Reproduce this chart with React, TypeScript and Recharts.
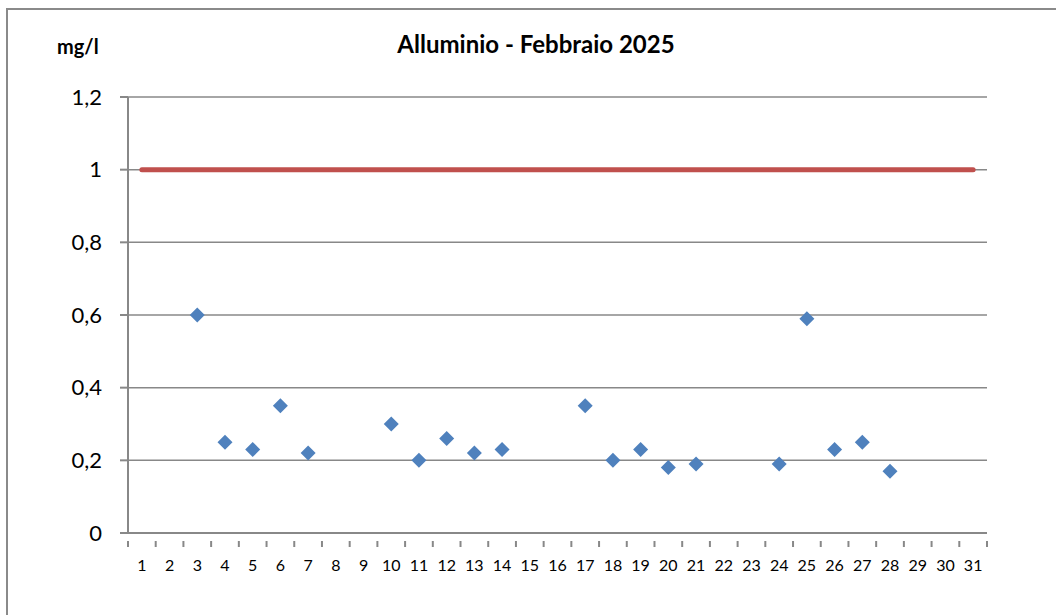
import React from "react";
import { ComposedChart, Line, Scatter, XAxis, YAxis, CartesianGrid } from "recharts";

const days = Array.from({ length: 31 }, (_, i) => i + 1);
const limitValues = days.map(() => 1);
const sampleDays = [3, 4, 5, 6, 7, 10, 11, 12, 13, 14, 17, 18, 19, 20, 21, 24, 25, 26, 27, 28];
const sampleValues = [0.6, 0.25, 0.23, 0.35, 0.22, 0.3, 0.2, 0.26, 0.22, 0.23, 0.35, 0.2, 0.23, 0.18, 0.19, 0.19, 0.59, 0.23, 0.25, 0.17];
const yTicks = [0, 0.2, 0.4, 0.6, 0.8, 1, 1.2];

const W = 1056;
const H = 615;
const M = { top: 97, right: 69, bottom: 52, left: 68 };
const Y_W = 60;
const X_H = 30;
const BAND = (W - M.left - Y_W - M.right) / days.length;

const lineData = days.map((d, i) => ({ day: d, limit: limitValues[i] }));
const scatterData = sampleDays.map((d, i) => ({ day: d, value: sampleValues[i] }));

const FONT = "Lato, 'Open Sans', sans-serif";

const Diamond = (props: any) => {
  const { cx, cy } = props;
  if (cx == null || cy == null) return null;
  const r = 7.5;
  return (
    <polygon
      points={`${cx},${cy - r} ${cx + r},${cy} ${cx},${cy + r} ${cx - r},${cy}`}
      fill="#4F81BD"
    />
  );
};

const XTick = (props: any) => {
  const { x, y, payload, index } = props;
  const axisY = y;
  return (
    <g>
      <line x1={x - BAND / 2} x2={x - BAND / 2} y1={axisY} y2={axisY + 6} stroke="#888" strokeWidth={2} />
      {index === days.length - 1 && (
        <line x1={x + BAND / 2} x2={x + BAND / 2} y1={axisY} y2={axisY + 6} stroke="#888" strokeWidth={2} />
      )}
      <text x={x} y={axisY + 30} textAnchor="middle" fontSize={16} fill="#000" fontFamily={FONT}>
        {payload.value}
      </text>
    </g>
  );
};

export default function App() {
  return (
    <div style={{ position: "absolute", left: 0, top: 0, width: W, height: H, overflow: "hidden", background: "#fff" }}>
      <div
        style={{
          position: "absolute",
          left: 6,
          top: 8,
          width: 1200,
          height: 800,
          border: "2px solid #8a8a8a",
        }}
      />
      <div
        style={{
          position: "absolute",
          left: 57,
          top: 34,
          fontFamily: FONT,
          fontWeight: 700,
          fontSize: 20,
          color: "#000",
        }}
      >
        mg/l
      </div>
      <div
        style={{
          position: "absolute",
          left: 0,
          width: 1072,
          top: 29,
          textAlign: "center",
          fontFamily: FONT,
          fontWeight: 700,
          fontSize: 24,
          color: "#000",
        }}
      >
        Alluminio - Febbraio 2025
      </div>
      <div style={{ position: "absolute", left: 0, top: 0 }}>
        <ComposedChart width={W} height={H} data={lineData} margin={M}>
          <CartesianGrid vertical={false} stroke="#888" strokeWidth={1.5} />
          <XAxis
            dataKey="day"
            type="number"
            domain={[0.5, 31.5]}
            ticks={days}
            interval={0}
            height={X_H}
            axisLine={{ stroke: "#888", strokeWidth: 2 }}
            tickLine={false}
            tick={<XTick />}
            allowDataOverflow
          />
          <YAxis
            type="number"
            domain={[0, 1.2]}
            ticks={yTicks}
            width={Y_W}
            axisLine={{ stroke: "#888", strokeWidth: 2 }}
            tickLine={{ stroke: "#888", strokeWidth: 2 }}
            tickSize={8}
            tickMargin={18}
            tickFormatter={(v: number) => String(Math.round(v * 10) / 10).replace(".", ",")}
            tick={{ fontSize: 22, fill: "#000", fontFamily: FONT }}
          />
          <Line
            dataKey="limit"
            stroke="#C0504D"
            strokeWidth={5}
            dot={false}
            strokeLinecap="round"
            isAnimationActive={false}
          />
          <Scatter data={scatterData} dataKey="value" shape={<Diamond />} isAnimationActive={false} />
        </ComposedChart>
      </div>
    </div>
  );
}
